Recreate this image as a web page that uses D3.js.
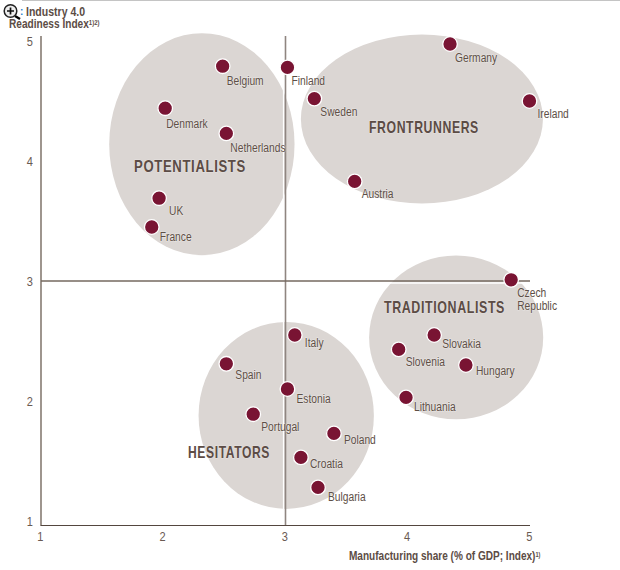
<!DOCTYPE html>
<html><head><meta charset="utf-8">
<script src="https://cdn.jsdelivr.net/npm/d3@7/dist/d3.min.js"></script>
<style>
html,body{margin:0;padding:0;background:#fff}
svg{display:block}
text{font-family:"Liberation Sans",Arial,sans-serif;fill:#6a5a52}
</style></head><body><div id="c"></div>
<script>
const countries=["Belgium","Finland","Denmark","Netherlands","UK","France","Germany","Ireland","Sweden","Austria","Czech Republic","Slovakia","Slovenia","Hungary","Lithuania","Italy","Spain","Estonia","Portugal","Poland","Croatia","Bulgaria"];
const manufacturingShare=[2.49,3.02,2.02,2.52,1.97,1.91,4.35,5.0,3.24,3.57,4.85,4.22,3.93,4.48,3.99,3.08,2.52,3.02,2.74,3.40,3.13,3.27];
const readinessIndex=[4.79,4.78,4.44,4.23,3.69,3.45,4.975,4.50,4.52,3.83,3.01,2.55,2.43,2.30,2.03,2.55,2.31,2.10,1.89,1.73,1.53,1.28];
const xTicks=[1,2,3,4,5];
const yTicks=[1,2,3,4,5];
const clusters=["POTENTIALISTS","FRONTRUNNERS","TRADITIONALISTS","HESITATORS"];
const clusterCx=[2.32,4.12,4.40,3.01];
const clusterCy=[4.14,4.35,2.53,1.88];
const clusterRx=[0.758,0.99,0.712,0.717];
const clusterRy=[0.925,0.704,0.683,0.779];

const W=620,H=570;
const x=d3.scaleLinear().domain([1,5]).range([40.5,529.5]);
const y=d3.scaleLinear().domain([1,5]).range([521,41]);
const svg=d3.select("#c").append("svg").attr("width",W).attr("height",H);

// layout of the labels relative to their marks
const labelOffset={Belgium:[4,19],Finland:[4,18],Denmark:[1,20],Netherlands:[4,19],UK:[10,17],France:[8,14],Germany:[5,18],Ireland:[8,17],Sweden:[6,17],Austria:[7,17],"Czech Republic":[6,17],Slovakia:[8,13],Slovenia:[7,17],Hungary:[10,10],Lithuania:[8,14],Italy:[10,12],Spain:[9,15],Estonia:[9,14],Portugal:[8,17],Poland:[10,11],Croatia:[9,11],Bulgaria:[10,14]};
const clusterLabelX=[134,369,384,188];
const clusterLabelY=[172,133,313,458];
const clusterLabelW=[112,110,121,82];

// place a text at (px,py), condensed horizontally by k
function put(t,px,py,k){return t.attr("x",0).attr("y",0).attr("transform",`translate(${px},${py}) scale(${k},1)`);}

svg.append("line").attr("x1",22).attr("x2",620).attr("y1",0.5).attr("y2",0.5).attr("stroke","#c4c4c4");

// ellipses
svg.selectAll("ellipse.c").data(clusters).join("ellipse").attr("class","c")
  .attr("cx",(d,i)=>x(clusterCx[i])).attr("cy",(d,i)=>y(clusterCy[i]))
  .attr("rx",(d,i)=>x(clusterRx[i])-x(0)).attr("ry",(d,i)=>y(0)-y(clusterRy[i]))
  .attr("fill","#dbd6d3");

// quadrant lines with white halo
const vx=x(3)+0.5, hy=y(3);
svg.append("line").attr("x1",vx-2).attr("x2",vx-2).attr("y1",36).attr("y2",525).attr("stroke","#fff").attr("stroke-width",1.2);
svg.append("line").attr("x1",41).attr("x2",530).attr("y1",hy+2).attr("y2",hy+2).attr("stroke","#fff").attr("stroke-width",1.6);
svg.append("line").attr("x1",vx).attr("x2",vx).attr("y1",36).attr("y2",525).attr("stroke","#8f8580").attr("stroke-width",1.6);
svg.append("line").attr("x1",41).attr("x2",530).attr("y1",hy).attr("y2",hy).attr("stroke","#75695f").attr("stroke-width",1.3);
svg.append("line").attr("x1",41).attr("x2",41).attr("y1",36).attr("y2",525.5).attr("stroke","#75695f").attr("stroke-width",1.4);
svg.append("line").attr("x1",40.5).attr("x2",530).attr("y1",525.5).attr("y2",525.5).attr("stroke","#54463f").attr("stroke-width",1.2);

// axes (labels only)
const gx=svg.append("g").attr("transform","translate(0,525)").call(d3.axisBottom(x).tickValues(xTicks).tickSize(0).tickPadding(7).tickFormat(d3.format("d")));
const gy=svg.append("g").attr("transform","translate(33,0)").call(d3.axisLeft(y).tickValues(yTicks).tickSize(0).tickPadding(0).tickFormat(d3.format("d")));
[gx,gy].forEach(g=>{g.select(".domain").remove();g.selectAll("text").style("font-size","13px").style("font-family","'Liberation Sans'").style("fill","#6a5a52").attr("transform","scale(.85,1)");});
gx.selectAll(".tick").attr("transform",d=>`translate(${x(d)-0.3},0)`);

// cluster names
svg.selectAll("text.cl").data(clusters).join("text").attr("class","cl")
  .style("font-size","16.5px").style("font-weight","700").style("letter-spacing","0.8px").style("fill","#5c4c45")
  .style("paint-order","stroke").style("stroke","#fff").style("stroke-width","1.2px").style("stroke-opacity",".35")
  .text(d=>d)
  .each(function(d,i){const k=clusterLabelW[i]/this.getComputedTextLength();put(d3.select(this),clusterLabelX[i],clusterLabelY[i],k);});

// points
svg.selectAll("circle.p").data(countries).join("circle").attr("class","p")
  .attr("cx",(d,i)=>x(manufacturingShare[i])).attr("cy",(d,i)=>y(readinessIndex[i]))
  .attr("r",7.3).attr("fill","#791433").attr("stroke","#fff").attr("stroke-width",1.3);

// point labels
svg.selectAll("text.lb").data(countries).join("text").attr("class","lb")
  .style("font-size","12.5px").style("fill","#5e4f46")
  .style("paint-order","stroke").style("stroke","#fff").style("stroke-width","1.2px").style("stroke-opacity",".4")
  .each(function(d,i){
    const px=x(manufacturingShare[i])+labelOffset[d][0], py=y(readinessIndex[i])+labelOffset[d][1];
    const t=put(d3.select(this),px,py,0.82);
    const parts=d==="Czech Republic"?d.split(" "):[d];
    parts.forEach((s,k)=>t.append("tspan").attr("x",0).attr("y",k*13).text(s));
  });

// axis titles
put(svg.append("text"),26,16,0.78).style("font-size","13.5px").style("font-weight","700").style("fill","#5c4c45").text("Industry 4.0");
const yt=put(svg.append("text"),9,28,0.75).style("font-size","13.5px").style("font-weight","700").style("fill","#5c4c45").text("Readiness Index");
yt.append("tspan").attr("dy",-3).style("font-size","8px").text("1)2)");
const xt=put(svg.append("text"),349,560,0.805).style("font-size","12.5px").style("font-weight","700").style("fill","#5c4c45").text("Manufacturing share (% of GDP; Index)");
xt.append("tspan").attr("dy",-3).style("font-size","7px").text("1)");

// zoom-lens icon
svg.append("text").attr("x",20).attr("y",15).style("font-size","10px").style("font-weight","700").style("fill","#2a7fd0").text(":");
const ic=svg.append("g").attr("transform","translate(3,4)");
ic.append("line").attr("x1",12).attr("y1",12).attr("x2",17).attr("y2",15).attr("stroke","#000").attr("stroke-width",2.4);
ic.append("circle").attr("cx",7.5).attr("cy",7).attr("r",6.3).attr("fill","#eee").attr("stroke","#222").attr("stroke-width",1.5);
ic.append("path").attr("d","M4 7H11M7.5 3.5V10.5").attr("stroke","#111").attr("stroke-width",1.7).attr("fill","none");
</script></body></html>
